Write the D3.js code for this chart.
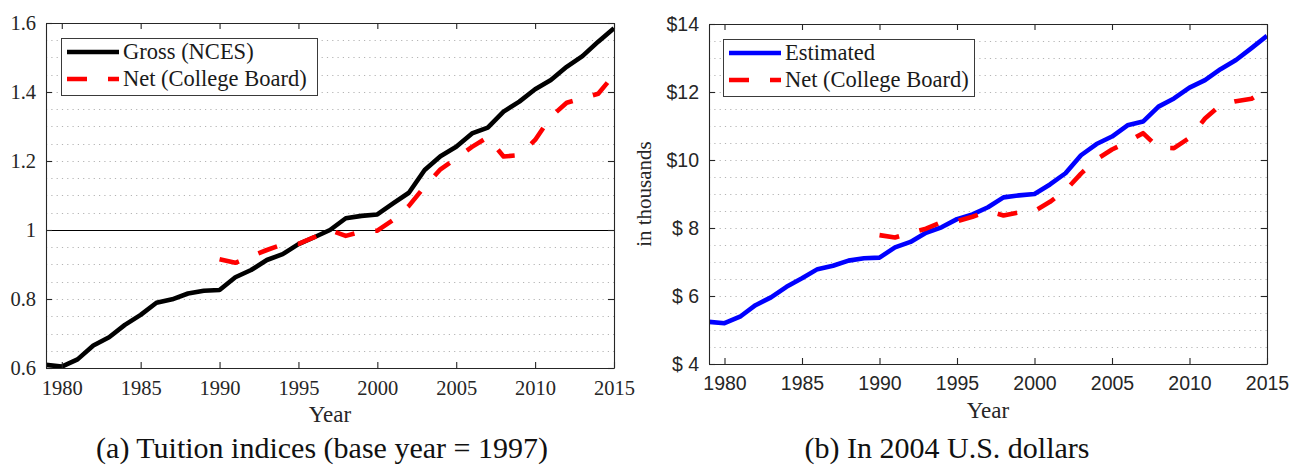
<!DOCTYPE html>
<html>
<head>
<meta charset="utf-8">
<script src="https://cdn.jsdelivr.net/npm/d3@7"></script>
<style>
  html, body { margin: 0; padding: 0; background: #fff; }
  svg { display: block; }
</style>
</head>
<body>
<svg id="chart" width="1293" height="466"></svg>
<script>
// ---- data ----
const yearsAll = [1979, 1980, 1981, 1982, 1983, 1984, 1985, 1986, 1987, 1988, 1989,
  1990, 1991, 1992, 1993, 1994, 1995, 1996, 1997, 1998, 1999, 2000, 2001, 2002,
  2003, 2004, 2005, 2006, 2007, 2008, 2009, 2010, 2011, 2012, 2013, 2014, 2015];
const yearsNet = [1990, 1991, 1992, 1993, 1994, 1995, 1996, 1997, 1998, 1999, 2000,
  2001, 2002, 2003, 2004, 2005, 2006, 2007, 2008, 2009, 2010, 2011, 2012, 2013, 2014, 2015];

// (a) tuition indices, base year 1997 = 1
const grossIndex = [0.609, 0.604, 0.625, 0.665, 0.689, 0.725, 0.754, 0.789, 0.799, 0.816,
  0.824, 0.826, 0.863, 0.884, 0.913, 0.930, 0.959, 0.979, 1.000, 1.034, 1.041, 1.045,
  1.077, 1.108, 1.174, 1.214, 1.241, 1.280, 1.297, 1.343, 1.372, 1.408, 1.435, 1.473,
  1.504, 1.546, 1.585];
const netIndex = [0.915, 0.905, 0.924, 0.942, 0.958, 0.960, 0.979, 1.000, 0.983, 0.995,
  0.998, 1.029, 1.070, 1.126, 1.176, 1.208, 1.241, 1.269, 1.213, 1.217, 1.261, 1.328,
  1.369, 1.382, 1.395, 1.450];

// (b) thousands of 2004 U.S. dollars
const estimatedDollars = [5.24, 5.20, 5.39, 5.73, 5.96, 6.27, 6.52, 6.79, 6.89, 7.04,
  7.11, 7.13, 7.43, 7.59, 7.86, 8.02, 8.26, 8.40, 8.61, 8.90, 8.96, 9.00, 9.28, 9.61,
  10.14, 10.47, 10.69, 11.02, 11.13, 11.57, 11.81, 12.13, 12.35, 12.67, 12.94, 13.29, 13.65];
const netDollars = [7.79, 7.72, 7.86, 7.98, 8.17, 8.20, 8.33, 8.50, 8.37, 8.46, 8.50,
  8.77, 9.11, 9.60, 10.02, 10.31, 10.53, 10.79, 10.36, 10.35, 10.65, 11.22, 11.62,
  11.73, 11.80, 12.08];

// ticks
const yearTicks = [1980, 1985, 1990, 1995, 2000, 2005, 2010, 2015];
const indexTicks = [0.6, 0.8, 1.0, 1.2, 1.4, 1.6];
const indexTickLabels = ["0.6", "0.8", "1", "1.2", "1.4", "1.6"];
const dollarTicks = [4, 6, 8, 10, 12, 14];
const dollarTickLabels = ["$ 4", "$ 6", "$ 8", "$10", "$12", "$14"];

// ---- styling ----
const serif = "'Liberation Serif', 'Times New Roman', serif";
const sans = "'Liberation Sans', Arial, Helvetica, sans-serif";
const axisColor = "#262626";
const dash = "20,21";

const svg = d3.select("#chart");

function panel(cfg) {
  const g = svg.append("g");
  const x = d3.scaleLinear().domain([1979, 2015]).range([cfg.left, cfg.right]);
  const y = d3.scaleLinear().domain(cfg.yDomain).range([cfg.bottom, cfg.top]);
  const w = cfg.right - cfg.left, h = cfg.bottom - cfg.top;

  const clipId = "clip-" + cfg.id;
  svg.append("defs").append("clipPath").attr("id", clipId)
    .append("rect").attr("x", cfg.left).attr("y", cfg.top).attr("width", w).attr("height", h);

  // dotted minor grid
  const minor = d3.range(cfg.yDomain[0] + cfg.minorStep, cfg.yDomain[1] - cfg.minorStep / 2, cfg.minorStep);
  g.append("g").selectAll("line").data(minor).join("line")
    .attr("x1", cfg.left).attr("x2", cfg.right)
    .attr("y1", d => Math.round(y(d)) + 0.5).attr("y2", d => Math.round(y(d)) + 0.5)
    .attr("stroke", "#b4b4b4").attr("stroke-width", 1)
    .attr("stroke-dasharray", "1.2,4.1");

  if (cfg.refLine !== undefined) {
    g.append("line")
      .attr("x1", cfg.left).attr("x2", cfg.right)
      .attr("y1", Math.round(y(cfg.refLine)) + 0.5).attr("y2", Math.round(y(cfg.refLine)) + 0.5)
      .attr("stroke", "#000").attr("stroke-width", 1.2);
  }

  // series
  const line = d3.line().x(d => x(d[0])).y(d => y(d[1]));
  const lines = g.append("g").attr("clip-path", `url(#${clipId})`);
  cfg.series.forEach(s => {
    lines.append("path")
      .datum(s.years.map((yr, i) => [yr, s.values[i]]))
      .attr("d", line)
      .attr("fill", "none")
      .attr("stroke", s.color)
      .attr("stroke-width", 4.6)
      .attr("stroke-linejoin", "round")
      .attr("stroke-dasharray", s.dashed ? dash : null);
  });

  // axes (box with inward ticks on all sides)
  const tickLen = 6;
  const bottomAxis = d3.axisBottom(x).tickValues(yearTicks).tickSize(-tickLen).tickSizeOuter(0).tickPadding(12).tickFormat(d3.format("d"));
  const topAxis = d3.axisTop(x).tickValues(yearTicks).tickSize(-tickLen).tickSizeOuter(0).tickFormat("");
  const leftAxis = d3.axisLeft(y).tickValues(cfg.yTicks).tickSize(-tickLen).tickSizeOuter(0).tickPadding(10)
    .tickFormat((d, i) => cfg.yTickLabels[i]);
  const rightAxis = d3.axisRight(y).tickValues(cfg.yTicks).tickSize(-tickLen).tickSizeOuter(0).tickFormat("");

  const styleAxis = (sel, font, size) => {
    sel.selectAll("path").attr("stroke", axisColor).attr("stroke-width", 1.1);
    sel.selectAll("line").attr("stroke", axisColor).attr("stroke-width", 1.1);
    sel.selectAll("text").attr("fill", axisColor).style("font-family", font).style("font-size", size + "px");
  };

  g.append("g").attr("transform", `translate(0,${cfg.bottom})`).call(bottomAxis).call(styleAxis, cfg.tickFont, cfg.tickSize);
  g.append("g").attr("transform", `translate(0,${cfg.top})`).call(topAxis).call(styleAxis, cfg.tickFont, cfg.tickSize);
  g.append("g").attr("transform", `translate(${cfg.left},0)`).call(leftAxis).call(styleAxis, cfg.tickFont, cfg.tickSize);
  g.append("g").attr("transform", `translate(${cfg.right},0)`).call(rightAxis).call(styleAxis, cfg.tickFont, cfg.tickSize);

  // x-axis title
  g.append("text")
    .attr("x", (cfg.left + cfg.right) / 2).attr("y", cfg.bottom + 54)
    .attr("text-anchor", "middle")
    .style("font-family", serif).style("font-size", "23px").attr("fill", axisColor)
    .text("Year");

  if (cfg.yTitle) {
    g.append("text")
      .attr("transform", `translate(${cfg.left - 58},${(cfg.top + cfg.bottom) / 2}) rotate(-90)`)
      .attr("text-anchor", "middle")
      .style("font-family", serif).style("font-size", "21px").attr("fill", axisColor)
      .text(cfg.yTitle);
  }

  // legend
  const lg = g.append("g");
  lg.append("rect")
    .attr("x", cfg.legend.x + 0.5).attr("y", cfg.legend.y + 0.5)
    .attr("width", cfg.legend.w).attr("height", 57)
    .attr("fill", "#fff").attr("stroke", "#3a3a3a").attr("stroke-width", 1);
  cfg.series.forEach((s, i) => {
    const cy = cfg.legend.y + 14 + i * 27;
    lg.append("line")
      .attr("x1", cfg.legend.x + 6).attr("x2", cfg.legend.x + 58)
      .attr("y1", cy).attr("y2", cy)
      .attr("stroke", s.color).attr("stroke-width", 4.6)
      .attr("stroke-dasharray", s.dashed ? dash : null);
    lg.append("text")
      .attr("x", cfg.legend.x + 62).attr("y", cy)
      .attr("dy", "0.33em")
      .style("font-family", serif).style("font-size", "22.5px").attr("fill", "#1a1a1a")
      .text(s.name);
  });

  // caption
  svg.append("text")
    .attr("x", cfg.captionX).attr("y", 458)
    .attr("text-anchor", "middle")
    .style("font-family", serif).style("font-size", "30px").attr("fill", "#111")
    .text(cfg.caption);
}

panel({
  id: "a", left: 46, right: 614, top: 23, bottom: 368,
  yDomain: [0.6, 1.6], yTicks: indexTicks, yTickLabels: indexTickLabels, minorStep: 0.05,
  refLine: 1.0, tickFont: serif, tickSize: 20.5,
  series: [
    { name: "Gross (NCES)", years: yearsAll, values: grossIndex, color: "#000", dashed: false },
    { name: "Net (College Board)", years: yearsNet, values: netIndex, color: "#ff0000", dashed: true }
  ],
  legend: { x: 61, y: 38, w: 256 },
  caption: "(a) Tuition indices (base year = 1997)", captionX: 322
});

panel({
  id: "b", left: 709, right: 1267, top: 24, bottom: 364,
  yDomain: [4, 14], yTicks: dollarTicks, yTickLabels: dollarTickLabels, minorStep: 0.5,
  tickFont: sans, tickSize: 19.5, yTitle: "in thousands",
  series: [
    { name: "Estimated", years: yearsAll, values: estimatedDollars, color: "#0000ff", dashed: false },
    { name: "Net (College Board)", years: yearsNet, values: netDollars, color: "#ff0000", dashed: true }
  ],
  legend: { x: 723, y: 39, w: 251 },
  caption: "(b) In 2004 U.S. dollars", captionX: 947
});
</script>
</body>
</html>
